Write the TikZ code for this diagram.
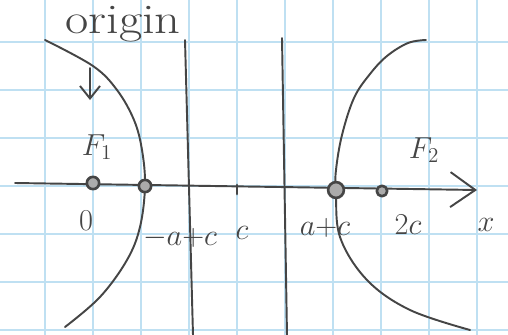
\documentclass[tikz,border=0pt]{standalone}
\usepackage{amsmath}
\usetikzlibrary{arrows.meta}
\definecolor{pencil}{HTML}{454545}
\definecolor{gridblue}{HTML}{BFE0F2}

\begin{document}
\begin{tikzpicture}[
  x=0.02cm, y=-0.02cm,
  line cap=round, line join=round,
  font=\fontsize{17}{20}\selectfont,
  gl/.style={draw=gridblue, line width=1.0pt},
  pen/.style={draw=pencil, line width=1.1pt},
  dot/.style={circle, draw=pencil, fill=pencil!45, line width=1.5pt,
              inner sep=0pt, minimum size=#1},
  dot/.default=7pt,
  lbl/.style={text=pencil, inner sep=1pt},
]
\useasboundingbox (0,0) rectangle (508,335);
\fill[white] (0,0) rectangle (508,335);

% graph paper
\foreach \gx in {45,93,...,477} \draw[gl] (\gx,0) -- (\gx,335);
\foreach \gy in {42,90,...,330} \draw[gl] (0,\gy) -- (508,\gy);

% the two vertical lines
\coordinate (v1t) at (185,40);
\coordinate (v1b) at (193,335);
\coordinate (v2t) at (282,38);
\coordinate (v2b) at (287,335);
\draw[pen] (v1t) -- (v1b);
\draw[pen] (v2t) -- (v2b);

% branches
\draw[pen] plot[smooth, tension=0.6] coordinates {(45,40) (93,66) (117,90) (134,120)
  (142,150) (145,186) (140,227) (127,260) (100,297) (65,327)};
\draw[pen] plot[smooth, tension=0.6] coordinates {(426,40) (408,43) (387,56) (370,74)
  (354,98) (342,135) (336,170) (336,190) (340,237) (367,280) (410,310) (470,330)};

% x axis
\coordinate (xs) at (15,183);
\coordinate (xe) at (477,190);
\draw[pen, -{Straight Barb[length=5mm, width=7mm, line width=1.1pt]}] (xs) -- (xe);

% points on the axis
\node[dot]     (f1) at (93,183) {};
\node[dot]     (lv) at (145,186) {};
\node[dot=9pt] (rv) at (336,190) {};
\node[dot=6pt] (tc) at (382,191) {};
\draw[pen, line width=1.6pt] (237,185) -- (237,194);

% labels
\node[lbl, font=\fontsize{24}{28}\selectfont, xscale=1.2] (orig) at (123,24) {origin};
\coordinate (oa) at (90,68);
\coordinate (ob) at (90,100);
\draw[pen, -{Straight Barb[length=2.5mm, width=4mm]}] (oa) -- (ob);
\node[lbl] (lf1) at (97,147) {$F_1$};
\node[lbl] (lf2) at (424,150) {$F_2$};
\node[lbl] (l0)  at (86,221) {$0$};
\node[lbl] (l1)  at (180,238) {$-a{+}c$};
\node[lbl] (lc)  at (242,233) {$c$};
\node[lbl] (l2)  at (325,228) {$a{+}c$};
\node[lbl] (l3)  at (408,225) {$2c$};
\node[lbl] (lx)  at (486,225) {$x$};
\end{tikzpicture}
\end{document}
